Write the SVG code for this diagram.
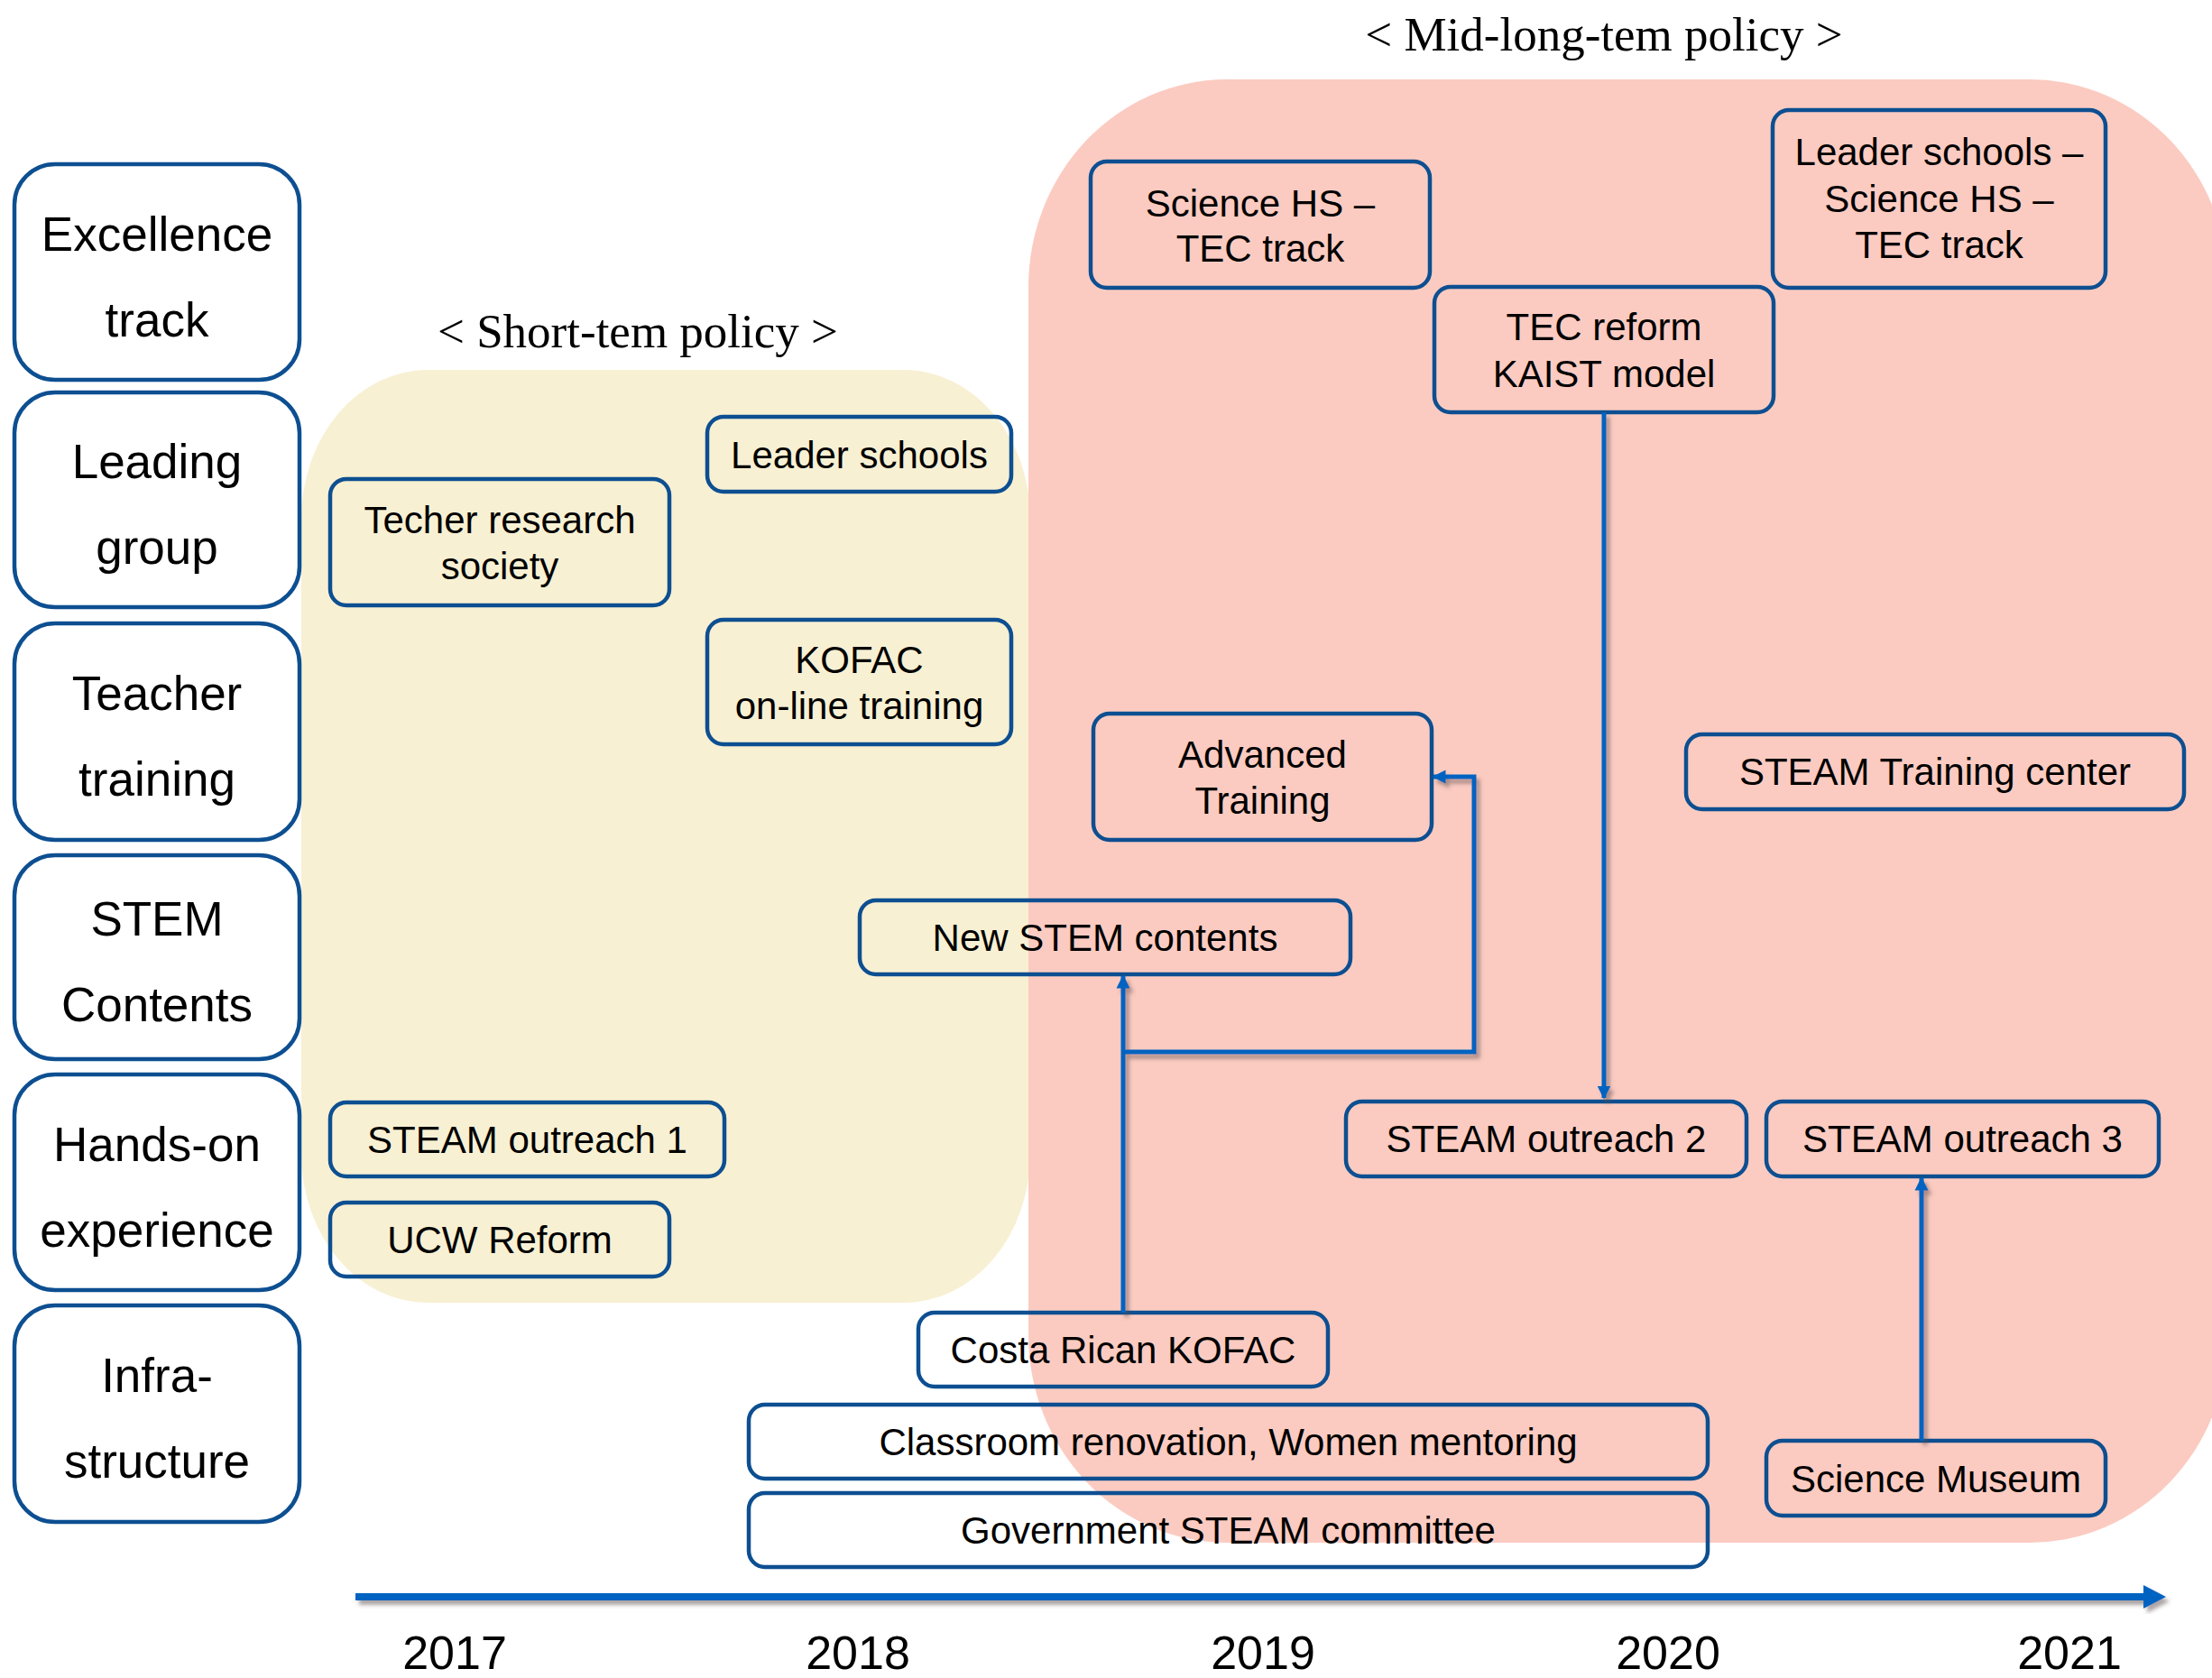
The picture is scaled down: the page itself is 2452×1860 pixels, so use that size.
<svg xmlns="http://www.w3.org/2000/svg" width="2452" height="1860" viewBox="0 0 2452 1860">
<style>
.cat{fill:#fff;stroke:#0d4f91;stroke-width:4.5}
.nd{fill:none;stroke:#0d4f91;stroke-width:4.5}
.ct{font-family:"Liberation Sans",Arial,sans-serif;font-size:53px;fill:#000;text-anchor:middle}
.t{font-family:"Liberation Sans",Arial,sans-serif;font-size:42px;fill:#000;text-anchor:middle}
.pol{font-family:"Liberation Serif","Times New Roman",serif;font-size:53px;fill:#000;text-anchor:middle}
.yr{font-family:"Liberation Sans",Arial,sans-serif;font-size:52px;fill:#000;text-anchor:middle}
.cn{fill:none;stroke:#0563c1;stroke-width:5}
</style>
<defs>
<marker id="ah" viewBox="0 0 10 10" refX="9" refY="5" markerWidth="3" markerHeight="3.2" orient="auto" markerUnits="strokeWidth">
<path d="M0,0 L10,5 L0,10 z" fill="#0563c1"/>
</marker>
<filter id="sh" x="-10%" y="-10%" width="130%" height="130%">
<feDropShadow dx="4" dy="5" stdDeviation="2" flood-color="#5a4a48" flood-opacity="0.5"/>
</filter>
</defs>
<rect width="2452" height="1860" fill="#fff"/>

<g id="short-term-region">
<rect x="334" y="410" width="808" height="1034" rx="140" ry="165" fill="#f8f0d3"/>
<text class="pol" x="707" y="385">&lt; Short-tem policy &gt;</text>
</g>
<g id="mid-long-term-region">
<rect x="1140" y="88" width="1330" height="1622" rx="220" ry="230" fill="#fbcbc1"/>
<text class="pol" x="1778" y="56">&lt; Mid-long-tem policy &gt;</text>
</g>

<g id="cat-excellence"><rect class="cat" x="16" y="182" width="316" height="239" rx="45"/><text class="ct" x="174" y="278">Excellence</text><text class="ct" x="174" y="373">track</text></g>
<g id="cat-leading"><rect class="cat" x="16" y="435" width="316" height="238" rx="45"/><text class="ct" x="174" y="530">Leading</text><text class="ct" x="174" y="625">group</text></g>
<g id="cat-teacher"><rect class="cat" x="16" y="691" width="316" height="240" rx="45"/><text class="ct" x="174" y="787">Teacher</text><text class="ct" x="174" y="882">training</text></g>
<g id="cat-stem"><rect class="cat" x="16" y="948" width="316" height="226" rx="45"/><text class="ct" x="174" y="1037">STEM</text><text class="ct" x="174" y="1132">Contents</text></g>
<g id="cat-hands"><rect class="cat" x="16" y="1191" width="316" height="239" rx="45"/><text class="ct" x="174" y="1287">Hands-on</text><text class="ct" x="174" y="1382">experience</text></g>
<g id="cat-infra"><rect class="cat" x="16" y="1447" width="316" height="240" rx="45"/><text class="ct" x="174" y="1543">Infra-</text><text class="ct" x="174" y="1638">structure</text></g>

<g id="leader-schools"><rect class="nd" x="784" y="462" width="337" height="83" rx="18"/><text class="t" x="952.5" y="519">Leader schools</text></g>
<g id="techer-research"><rect class="nd" x="366" y="531" width="376" height="140" rx="18"/><text class="t" x="554" y="591">Techer research</text><text class="t" x="554" y="642">society</text></g>
<g id="kofac-online"><rect class="nd" x="784" y="687" width="337" height="138" rx="18"/><text class="t" x="952.5" y="746">KOFAC</text><text class="t" x="952.5" y="797">on-line training</text></g>
<g id="science-hs"><rect class="nd" x="1209" y="179" width="376" height="140" rx="18"/><text class="t" x="1397" y="240">Science HS –</text><text class="t" x="1397" y="290">TEC track</text></g>
<g id="leader-science-tec"><rect class="nd" x="1965" y="122" width="369" height="197" rx="18"/><text class="t" x="2149.5" y="183">Leader schools –</text><text class="t" x="2149.5" y="235">Science HS –</text><text class="t" x="2149.5" y="286">TEC track</text></g>
<g id="tec-reform"><rect class="nd" x="1590" y="318" width="376" height="139" rx="18"/><text class="t" x="1778" y="377">TEC reform</text><text class="t" x="1778" y="429">KAIST model</text></g>
<g id="advanced-training"><rect class="nd" x="1212" y="791" width="375" height="140" rx="18"/><text class="t" x="1399.5" y="851">Advanced</text><text class="t" x="1399.5" y="902">Training</text></g>
<g id="steam-training-center"><rect class="nd" x="1869" y="814" width="552" height="83" rx="18"/><text class="t" x="2145" y="870">STEAM Training center</text></g>
<g id="new-stem-contents"><rect class="nd" x="953" y="998" width="544" height="82" rx="18"/><text class="t" x="1225" y="1054">New STEM contents</text></g>
<g id="steam-outreach-1"><rect class="nd" x="366" y="1222" width="437" height="82" rx="18"/><text class="t" x="584.5" y="1278">STEAM outreach 1</text></g>
<g id="steam-outreach-2"><rect class="nd" x="1492" y="1221" width="444" height="83" rx="18"/><text class="t" x="1714" y="1277">STEAM outreach 2</text></g>
<g id="steam-outreach-3"><rect class="nd" x="1958" y="1221" width="435" height="83" rx="18"/><text class="t" x="2175.5" y="1277">STEAM outreach 3</text></g>
<g id="ucw-reform"><rect class="nd" x="366" y="1333" width="376" height="82" rx="18"/><text class="t" x="554" y="1389">UCW Reform</text></g>
<g id="costa-rican-kofac"><rect class="nd" x="1018" y="1455" width="454" height="82" rx="18"/><text class="t" x="1245" y="1511">Costa Rican KOFAC</text></g>
<g id="classroom-renovation"><rect class="nd" x="830" y="1557" width="1063" height="82" rx="18"/><text class="t" x="1361.5" y="1613">Classroom renovation, Women mentoring</text></g>
<g id="government-committee"><rect class="nd" x="830" y="1655" width="1063" height="82" rx="18"/><text class="t" x="1361.5" y="1711">Government STEAM committee</text></g>
<g id="science-museum"><rect class="nd" x="1958" y="1597" width="376" height="83" rx="18"/><text class="t" x="2146" y="1654">Science Museum</text></g>

<g id="connectors" filter="url(#sh)">
<path class="cn" d="M1778,457 V1217" marker-end="url(#ah)"/>
<path class="cn" d="M1245,1455 V1082" marker-end="url(#ah)"/>
<path class="cn" d="M1245,1166 H1634 V861 H1589" marker-end="url(#ah)"/>
<path class="cn" d="M2130,1597 V1306" marker-end="url(#ah)"/>
</g>

<g id="timeline" filter="url(#sh)">
<rect x="394" y="1766" width="1985" height="8" fill="#0563c1"/>
<path d="M2376,1757 L2401,1770 L2376,1783 z" fill="#0563c1"/>
</g>
<g id="years">
<text class="yr" x="504" y="1850">2017</text>
<text class="yr" x="951" y="1850">2018</text>
<text class="yr" x="1400" y="1850">2019</text>
<text class="yr" x="1849" y="1850">2020</text>
<text class="yr" x="2294" y="1850">2021</text>
</g>
</svg>
